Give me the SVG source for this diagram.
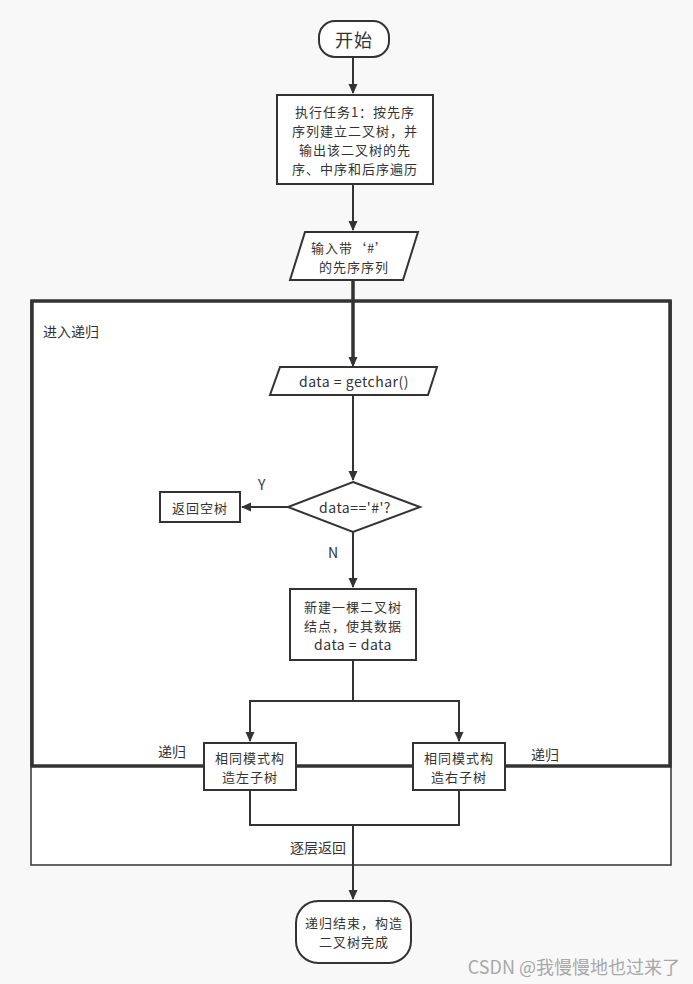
<svg xmlns="http://www.w3.org/2000/svg" width="693" height="984" viewBox="0 0 693 984">
<defs>
<marker id="ah" markerWidth="10" markerHeight="10" refX="9" refY="5" orient="auto" markerUnits="userSpaceOnUse"><path d="M0,0.5 L10,5 L0,9.5 Z" fill="#333"/></marker>
<style>
.n{fill:#fff;stroke:#333;stroke-width:2}
.t{font-family:"Noto Sans CJK SC","Noto Sans",sans-serif;font-size:13px;letter-spacing:1px;fill:#333;text-anchor:middle;dominant-baseline:central}
.l{font-family:"Noto Sans CJK SC","Noto Sans",sans-serif;font-size:14px;fill:#333;dominant-baseline:central}
.c{fill:none;stroke:#333;stroke-width:2}
</style>
</defs>
<rect width="693" height="984" fill="#f8f8f8"/>
<g id="frame">
<rect x="31" y="301" width="640" height="564" fill="#fff" stroke="#333" stroke-width="1.5"/>
<rect x="32" y="301" width="638" height="465" fill="none" stroke="#333" stroke-width="3.5"/>
<text class="l" x="43" y="331">进入递归</text>
</g>
<g id="connectors">
<path class="c" d="M353,57 V93" marker-end="url(#ah)"/>
<path class="c" d="M353,184 V230" marker-end="url(#ah)"/>
<path fill="none" stroke="#333" stroke-width="3.5" d="M353,280 V364"/>
<path class="c" d="M353,350 V366" marker-end="url(#ah)"/>
<path class="c" d="M353,395 V480" marker-end="url(#ah)"/>
<path class="c" d="M288,507 H242" marker-end="url(#ah)"/>
<path class="c" d="M353,532 V587" marker-end="url(#ah)"/>
<path class="c" d="M353,660 V701 H250 V741" marker-end="url(#ah)"/>
<path class="c" d="M353,701 H459 V741" marker-end="url(#ah)"/>
<path class="c" d="M250,790 V825 H459 V790"/>
<path class="c" d="M353,825 V899" marker-end="url(#ah)"/>
<text class="l" x="258" y="484">Y</text>
<text class="l" x="328" y="552">N</text>
<text class="l" x="158" y="751">递归</text>
<text class="l" x="531" y="754">递归</text>
<text class="l" x="290" y="847">逐层返回</text>
</g>
<g id="start">
<rect class="n" x="319" y="21" width="70" height="36" rx="16"/>
<text class="t" x="354" y="39" style="font-size:18px">开始</text>
</g>
<g id="task1">
<rect class="n" x="277" y="95" width="156" height="89"/>
<text class="t" x="355" y="111">执行任务1：按先序</text>
<text class="t" x="355" y="130">序列建立二叉树，并</text>
<text class="t" x="355" y="149">输出该二叉树的先</text>
<text class="t" x="355" y="168">序、中序和后序遍历</text>
</g>
<g id="input">
<path class="n" d="M305,232 H418 L403,280 H290 Z"/>
<text class="t" x="350" y="247">输入带‘#’</text>
<text class="t" x="354" y="266">的先序序列</text>
</g>
<g id="getchar">
<path class="n" d="M280,367 H437 L428,395 H270 Z"/>
<text class="t" x="354" y="381" style="font-size:14px;letter-spacing:0.5px">data = getchar()</text>
</g>
<g id="decision">
<path class="n" d="M353,482 L420,507 L353,532 L288,507 Z"/>
<text class="t" x="355" y="507" style="font-size:14px;letter-spacing:0.5px">data=='#'?</text>
</g>
<g id="nulltree">
<rect class="n" x="160" y="492" width="80" height="30"/>
<text class="t" x="200" y="507">返回空树</text>
</g>
<g id="newnode">
<rect class="n" x="290" y="589" width="126" height="71"/>
<text class="t" x="353" y="606">新建一棵二叉树</text>
<text class="t" x="353" y="625">结点，使其数据</text>
<text class="t" x="353" y="644" style="font-size:14px;letter-spacing:0.5px">data = data</text>
</g>
<g id="left">
<rect class="n" x="204" y="743" width="92" height="47"/>
<text class="t" x="250" y="757">相同模式构</text>
<text class="t" x="250" y="776">造左子树</text>
</g>
<g id="right">
<rect class="n" x="413" y="743" width="92" height="47"/>
<text class="t" x="459" y="757">相同模式构</text>
<text class="t" x="459" y="776">造右子树</text>
</g>
<g id="end">
<rect class="n" x="296" y="901" width="115" height="62" rx="22"/>
<text class="t" x="354" y="922">递归结束，构造</text>
<text class="t" x="354" y="941">二叉树完成</text>
</g>
<text x="680" y="966" style="font-family:'Noto Sans CJK SC','Noto Sans',sans-serif;font-size:18px;fill:#a8a8a8;text-anchor:end;dominant-baseline:central">CSDN @我慢慢地也过来了</text>
</svg>
